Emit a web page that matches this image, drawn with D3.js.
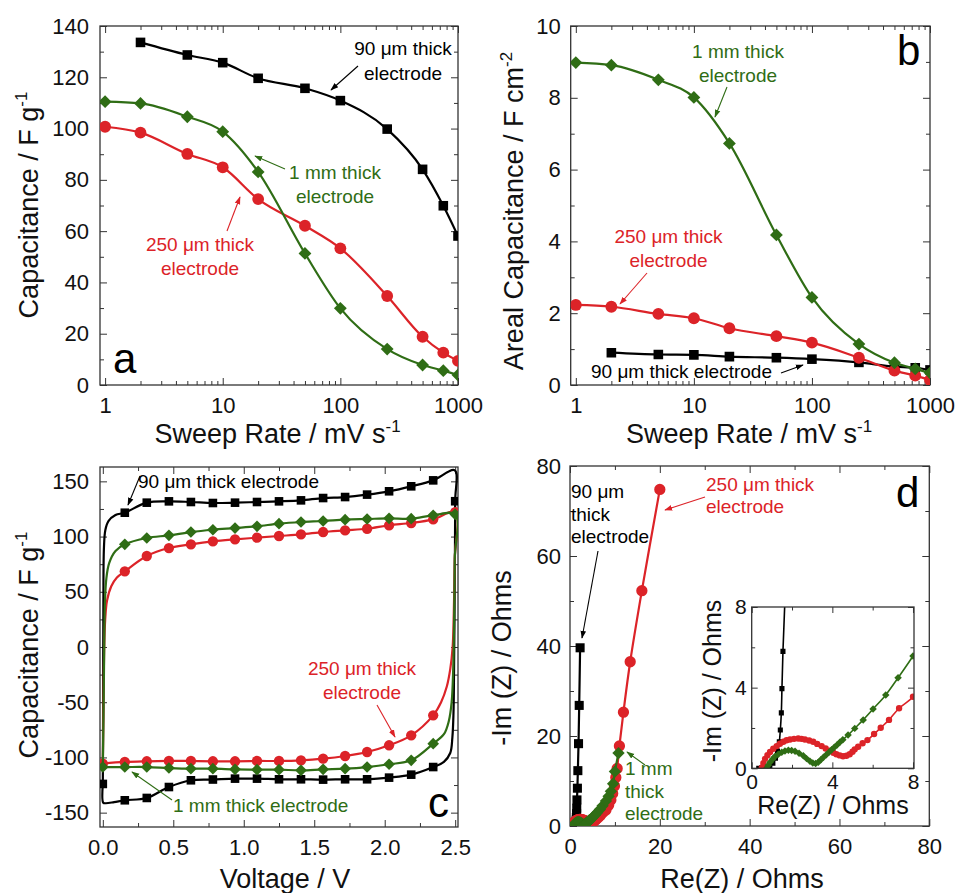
<!DOCTYPE html>
<html lang="en">
<head>
<meta charset="UTF-8">
<title>Electrode thickness comparison</title>
<script src="https://d3js.org/d3.v7.min.js"></script>
<style>
  body { margin: 0; background: #fff; }
  svg { font-family: "Liberation Sans", Arial, sans-serif; }
  .axis-title { font-size: 27px; fill: #111; }
  .note { font-size: 19px; }
  .letter { font-size: 42px; fill: #000; }
</style>
</head>
<body>
<svg id="chart" width="955" height="893"></svg>
<script>
const FONT = '"Liberation Sans", Arial, sans-serif';
const RED = "#dc2328", GREEN = "#2f6d15", BLACK = "#000";

// ---- panels a, b: sweep rate in mV/s
const sweepRates = [1, 2, 5, 10, 20, 50, 100, 250, 500, 750, 1000];
const rateTicks = [1, 10, 100, 1000];
// gravimetric capacitance, F/g (the 90 um electrode starts at 2 mV/s)
const grav90 = [null, 133.6, 128.7, 125.7, 119.6, 115.7, 110.9, 99.8, 84.1, 69.9, 58.1];
const grav250 = [100.7, 98.4, 90.1, 84.9, 72.5, 62.1, 53.3, 34.7, 18.8, 12.6, 9.4];
const grav1mm = [110.5, 109.8, 104.6, 98.8, 83.1, 51.3, 29.9, 14.0, 7.8, 5.6, 3.9];
const gravTicks = [0, 20, 40, 60, 80, 100, 120, 140];
// areal capacitance, F/cm2
const areal90 = [null, 0.90, 0.85, 0.84, 0.79, 0.76, 0.72, 0.63, 0.51, 0.48, 0.42];
const areal250 = [2.23, 2.18, 1.98, 1.86, 1.58, 1.36, 1.18, 0.76, 0.40, 0.26, 0.14];
const areal1mm = [8.98, 8.91, 8.50, 8.01, 6.73, 4.18, 2.44, 1.14, 0.62, 0.45, 0.34];
const arealTicks = [0, 2, 4, 6, 8, 10];

// ---- panel c: cyclic voltammetry, capacitance (F/g) vs voltage
const cvVolts = [0, 0.156, 0.312, 0.469, 0.625, 0.781, 0.938, 1.094, 1.25, 1.406, 1.563, 1.719, 1.875, 2.031, 2.188, 2.344, 2.5];
const voltTicks = [0, 0.5, 1, 1.5, 2, 2.5];
const cvTicks = [-150, -100, -50, 0, 50, 100, 150];
// charging branch, one value per cvVolts entry
const cv90Up = [-124, 121.6, 130.7, 131.9, 131.3, 130.4, 130.7, 131.3, 131.9, 132.8, 134.9, 135.8, 138.0, 141.0, 145.5, 150.9, 132.0];
const cv250Up = [-105.6, 68.5, 82.4, 89.6, 93.0, 95.7, 97.5, 99.0, 100.5, 102.0, 104.1, 105.6, 107.1, 110.2, 112.3, 115.6, 122.0];
const cv1mmUp = [-108.7, 93.0, 98.7, 101.1, 104.1, 106.2, 107.7, 109.3, 111.7, 113.2, 114.1, 115.3, 115.9, 116.5, 116.2, 119.2, 120.1];
// discharge branch, at cvVolts[1..15]
const cv90Down = [-138.8, -136.7, -126.8, -120.7, -120.0, -119.2, -119.2, -119.8, -119.8, -120.1, -119.8, -119.8, -118.3, -115.6, -108.7];
const cv250Down = [-104.1, -103.5, -103.2, -103.2, -103.5, -103.5, -103.2, -103.2, -102.6, -101.1, -98.7, -95.1, -89.0, -80.0, -61.9];
const cv1mmDown = [-108.7, -108.7, -109.6, -110.2, -110.2, -110.8, -111.1, -111.1, -111.7, -110.8, -110.2, -108.7, -106.2, -102.6, -87.5];
// sharp turns at 0 V and 2.5 V (unmarked trace points)
const cv90Rise = [[0.002, -60], [0.004, 40], [0.008, 90], [0.018, 106], [0.04, 114], [0.09, 119.5]];
const cv90Turn = [[2.497, 160]];
const cv90Fall = [[2.497, 60], [2.492, -20], [2.488, -60], [2.48, -82], [2.465, -96], [2.42, -104]];
const cv90End = [[0.08, -140.5], [0.02, -141.5], [0.003, -141]];
const cv250Rise = [[0.005, -50], [0.01, 0], [0.017, 25], [0.03, 42], [0.06, 55], [0.1, 63]];
const cv250Fall = [[2.497, 80], [2.49, 30], [2.482, 0], [2.465, -20], [2.44, -36], [2.4, -50]];
const cv1mmRise = [[0.005, -60], [0.01, 0], [0.015, 40], [0.025, 62], [0.045, 76], [0.09, 87]];
const cv1mmFall = [[2.497, 80], [2.492, 20], [2.486, -20], [2.475, -50], [2.455, -67], [2.42, -79]];

// ---- panel d: Nyquist plot, [Re(Z), -Im(Z)] in Ohms
const eisTicks = [0, 20, 40, 60, 80];
const insetTicks = [0, 4, 8];
const eis90 = [[0.35, 0], [0.5, 0.02], [0.7, 0.05], [0.9, 0.12], [1.05, 0.25], [1.18, 0.5], [1.28, 0.85], [1.37, 1.32],
  [1.42, 1.9], [1.47, 2.75], [1.5, 3.95], [1.55, 5.8], [1.65, 8.4], [1.75, 12.3], [1.9, 18.3], [2.05, 26.8], [2.25, 39.6]];
const eis250 = [[0.5, 0.03], [0.58, 0.25], [0.66, 0.47], [0.78, 0.65], [0.91, 0.81], [1.07, 0.97], [1.24, 1.1], [1.4, 1.22],
  [1.57, 1.32], [1.73, 1.39], [1.9, 1.43], [2.1, 1.46], [2.31, 1.48], [2.47, 1.46], [2.64, 1.43], [2.85, 1.38], [3.05, 1.32],
  [3.25, 1.21], [3.47, 1.1], [3.67, 0.98], [3.88, 0.87], [4.05, 0.77], [4.2, 0.7], [4.37, 0.64], [4.53, 0.6], [4.7, 0.62],
  [4.86, 0.7], [5.0, 0.82], [5.11, 0.94], [5.28, 1.07], [5.5, 1.24], [5.74, 1.4], [6.07, 1.7], [6.4, 2.01], [6.81, 2.4],
  [7.31, 2.98], [8.0, 3.55], [8.6, 4.6], [9.1, 5.8], [9.5, 7.2], [9.9, 8.9], [10.2, 10.8], [10.5, 12.8], [11.0, 17.8],
  [11.9, 25.3], [13.4, 36.5], [16.0, 52.3], [20.0, 74.8]];
const eis1mm = [[0.74, 0.0], [0.82, 0.15], [0.91, 0.3], [1.03, 0.45], [1.15, 0.58], [1.32, 0.7], [1.49, 0.8], [1.65, 0.86],
  [1.82, 0.89], [1.98, 0.88], [2.15, 0.84], [2.35, 0.75], [2.56, 0.62], [2.72, 0.48], [2.89, 0.35], [3.03, 0.26], [3.17, 0.24],
  [3.3, 0.3], [3.43, 0.42], [3.56, 0.55], [3.7, 0.67], [3.83, 0.79], [3.96, 0.92], [4.1, 1.04], [4.23, 1.16], [4.37, 1.29],
  [4.52, 1.42], [4.78, 1.65], [5.11, 1.98], [5.53, 2.4], [6.02, 2.94], [6.65, 3.64], [7.26, 4.49], [8.0, 5.57], [8.6, 6.6],
  [9.1, 7.7], [9.6, 9.4], [10.0, 12.1], [10.8, 16.2]];

const svg = d3.select("#chart");
const defs = svg.append("defs");

[["k", BLACK], ["r", RED], ["g", GREEN]].forEach(([id, c]) => {
  defs.append("marker").attr("id", "arr-" + id)
    .attr("viewBox", "0 0 10 10").attr("refX", 9).attr("refY", 5)
    .attr("markerWidth", 8).attr("markerHeight", 8).attr("markerUnits", "userSpaceOnUse")
    .attr("orient", "auto")
    .append("path").attr("d", "M0,1.5 L10,5 L0,8.5 Z").attr("fill", c);
});

// minor ticks: every value from step in range that is not a major one
function minorTicks(lo, hi, step, majors) {
  return d3.range(lo, hi + step / 2, step).filter(v => !majors.some(m => Math.abs(m - v) < 1e-9));
}
const logMinor = [1, 10, 100].flatMap(d => d3.range(2, 10).map(k => k * d));

function panel(name, box, x, y) {
  const w = box.x1 - box.x0, h = box.y1 - box.y0;
  x.range([0, w]);
  y.range([h, 0]);
  const g = svg.append("g").attr("transform", `translate(${box.x0},${box.y0})`);
  defs.append("clipPath").attr("id", "clip-" + name)
    .append("rect").attr("width", w).attr("height", h);
  return { g, w, h, x, y };
}

function axes(p, o) {
  const { g, w, h, x, y } = p;
  const add = (axis, tr) => {
    const a = g.append("g").attr("transform", tr || null).call(axis);
    a.attr("font-family", FONT).attr("font-size", o.fontSize);
    a.select(".domain").remove();
    a.selectAll("line").attr("stroke", "#333");
    a.selectAll("text").attr("fill", "#111");
  };
  const big = o.major, small = o.minor;
  add(d3.axisBottom(x).tickValues(o.xMajor).tickFormat(o.xFmt).tickSize(-big).tickPadding(o.padX), `translate(0,${h})`);
  add(d3.axisBottom(x).tickValues(o.xMinor).tickFormat("").tickSize(-small), `translate(0,${h})`);
  add(d3.axisTop(x).tickValues(o.xMajor).tickFormat("").tickSize(-big));
  add(d3.axisTop(x).tickValues(o.xMinor).tickFormat("").tickSize(-small));
  add(d3.axisLeft(y).tickValues(o.yMajor).tickFormat(o.yFmt).tickSize(-big).tickPadding(o.padY));
  add(d3.axisLeft(y).tickValues(o.yMinor).tickFormat("").tickSize(-small));
  add(d3.axisRight(y).tickValues(o.yMajor).tickFormat("").tickSize(-big), `translate(${w},0)`);
  add(d3.axisRight(y).tickValues(o.yMinor).tickFormat("").tickSize(-small), `translate(${w},0)`);
  g.append("rect").attr("width", w).attr("height", h)
    .attr("fill", "none").attr("stroke", "#333").attr("stroke-width", 1.3);
}

function series(p, name, pts, kind, color, size, curve, lineW, markPts) {
  const layer = p.g.append("g").attr("clip-path", `url(#clip-${name})`);
  const line = d3.line().x(d => p.x(d[0])).y(d => p.y(d[1])).curve(curve);
  layer.append("path").datum(pts).attr("d", line)
    .attr("fill", "none").attr("stroke", color).attr("stroke-width", lineW);
  const sym = d3.symbol().type(kind === "circle" ? d3.symbolCircle : d3.symbolSquare).size(size);
  layer.append("g").selectAll("path").data(markPts || pts).join("path")
    .attr("d", sym)
    .attr("transform", d => `translate(${p.x(d[0])},${p.y(d[1])})` + (kind === "diamond" ? " rotate(45)" : ""))
    .attr("fill", color);
}

const plain = d => String(d);

// ---------- panel a
const pa = panel("a", { x0: 100, y0: 26, x1: 458, y1: 385 },
  d3.scaleLog().domain([0.905, 1000]), d3.scaleLinear().domain([0, 140]));
axes(pa, {
  xMajor: rateTicks, xMinor: logMinor, xFmt: d3.format("d"), padX: 12,
  yMajor: gravTicks, yMinor: minorTicks(10, 130, 20, []), yFmt: plain, padY: 11,
  major: 7, minor: 4, fontSize: 22
});
const rated = vals => sweepRates.map((r, i) => [r, vals[i]]).filter(d => d[1] != null);
series(pa, "a", rated(grav90), "square", BLACK, 92, d3.curveMonotoneX, 2.2);
series(pa, "a", rated(grav250), "circle", RED, 110, d3.curveMonotoneX, 2.2);
series(pa, "a", rated(grav1mm), "diamond", GREEN, 82, d3.curveMonotoneX, 2.2);

// ---------- panel b
const pb = panel("b", { x0: 570.7, y0: 26, x1: 930, y1: 385 },
  d3.scaleLog().domain([0.905, 1000]), d3.scaleLinear().domain([0, 10]));
axes(pb, {
  xMajor: rateTicks, xMinor: logMinor, xFmt: d3.format("d"), padX: 12,
  yMajor: arealTicks, yMinor: minorTicks(1, 9, 2, []), yFmt: plain, padY: 10,
  major: 7, minor: 4, fontSize: 22
});
series(pb, "b", rated(areal90), "square", BLACK, 92, d3.curveMonotoneX, 2.2);
series(pb, "b", rated(areal250), "circle", RED, 110, d3.curveMonotoneX, 2.2);
series(pb, "b", rated(areal1mm), "diamond", GREEN, 82, d3.curveMonotoneX, 2.2);

// ---------- panel c
const pc = panel("c", { x0: 100, y0: 467, x1: 458, y1: 827 },
  d3.scaleLinear().domain([-0.02, 2.52]), d3.scaleLinear().domain([-163, 163]));
axes(pc, {
  xMajor: voltTicks, xMinor: minorTicks(0.25, 2.25, 0.5, []), xFmt: d3.format(".1f"), padX: 12,
  yMajor: cvTicks, yMinor: minorTicks(-125, 125, 50, []), yFmt: plain, padY: 11,
  major: 7, minor: 4, fontSize: 22
});
function cvLoop(up, down, rise, turn, fall, end) {
  const pts = [[cvVolts[0], up[0]], ...rise];
  for (let i = 1; i < 16; i++) pts.push([cvVolts[i], up[i]]);
  pts.push(...turn, [cvVolts[16], up[16]], ...fall);
  for (let i = 15; i >= 1; i--) pts.push([cvVolts[i], down[i - 1]]);
  pts.push(...end, [cvVolts[0], up[0]]);
  return pts;
}
function cvMarks(up, down) {
  return cvVolts.map((v, i) => [v, up[i]]).concat(down.map((c, i) => [cvVolts[i + 1], c]));
}
const cvCurve = d3.curveCatmullRom.alpha(0.5);
series(pc, "c", cvLoop(cv90Up, cv90Down, cv90Rise, cv90Turn, cv90Fall, cv90End), "square", BLACK, 74, cvCurve, 2.2, cvMarks(cv90Up, cv90Down));
series(pc, "c", cvLoop(cv250Up, cv250Down, cv250Rise, [], cv250Fall, []), "circle", RED, 84, cvCurve, 2.2, cvMarks(cv250Up, cv250Down));
series(pc, "c", cvLoop(cv1mmUp, cv1mmDown, cv1mmRise, [], cv1mmFall, []), "diamond", GREEN, 68, cvCurve, 2.2, cvMarks(cv1mmUp, cv1mmDown));

// ---------- panel d
const pd = panel("d", { x0: 570, y0: 466, x1: 929.3, y1: 826 },
  d3.scaleLinear().domain([0, 80]), d3.scaleLinear().domain([0, 80]));
axes(pd, {
  xMajor: eisTicks, xMinor: minorTicks(10, 70, 20, []), xFmt: plain, padX: 12,
  yMajor: eisTicks, yMinor: minorTicks(10, 70, 20, []), yFmt: plain, padY: 9,
  major: 7, minor: 4, fontSize: 22
});
const eisCurve = d3.curveCatmullRom.alpha(0.5);
series(pd, "d", eis90, "square", BLACK, 82, eisCurve, 2.2);
series(pd, "d", eis250, "circle", RED, 100, eisCurve, 2.2);
series(pd, "d", eis1mm, "diamond", GREEN, 76, eisCurve, 2.2);

// inset
const insetBox = { x0: 751.7, y0: 607, x1: 914, y1: 768.3 };
svg.append("rect").attr("x", insetBox.x0).attr("y", insetBox.y0)
  .attr("width", insetBox.x1 - insetBox.x0).attr("height", insetBox.y1 - insetBox.y0).attr("fill", "#fff");
const pi = panel("inset", insetBox, d3.scaleLinear().domain([0, 8.05]), d3.scaleLinear().domain([0, 8]));
series(pi, "inset", eis90, "square", BLACK, 26, eisCurve, 1.6);
series(pi, "inset", eis250, "circle", RED, 32, eisCurve, 1.6);
series(pi, "inset", eis1mm, "diamond", GREEN, 28, eisCurve, 1.6);
axes(pi, {
  xMajor: insetTicks, xMinor: [2, 6], xFmt: plain, padX: 6,
  yMajor: insetTicks, yMinor: [2, 6], yFmt: plain, padY: 5,
  major: 6, minor: 3.5, fontSize: 21
});

// ---------- axis titles
function title(x, y, text, sup, rotate, size) {
  const t = svg.append("text").attr("class", "axis-title")
    .attr("text-anchor", "middle")
    .attr("transform", `translate(${x},${y})` + (rotate ? " rotate(-90)" : ""));
  if (size) t.style("font-size", size + "px");
  t.append("tspan").text(text);
  if (sup) t.append("tspan").attr("dy", -11).style("font-size", "17px").text(sup);
}
title(277.5, 443, "Sweep Rate / mV s", "-1");
title(749, 443, "Sweep Rate / mV s", "-1");
title(285, 888, "Voltage / V");
title(742, 888, "Re(Z) / Ohms");
title(37.5, 205, "Capacitance / F g", "-1", true);
title(523, 211, "Areal Capacitance / F cm", "-2", true);
title(37.5, 645, "Capacitance / F g", "-1", true);
title(511, 658, "-Im (Z) / Ohms", null, true);
title(833, 814, "Re(Z) / Ohms", null, false, 25);
title(721, 681, "-Im (Z) / Ohms", null, true, 25);

// ---------- panel letters
[["a", 113, 373], ["b", 897, 65], ["c", 428, 817], ["d", 896, 507]].forEach(([s, x, y]) =>
  svg.append("text").attr("class", "letter").attr("x", x).attr("y", y).text(s));

// ---------- annotations
function note(lines, x, y0, lh, anchor, color) {
  const t = svg.append("text").attr("class", "note").attr("fill", color).attr("text-anchor", anchor);
  lines.forEach((s, i) => t.append("tspan").attr("x", x).attr("y", y0 + i * lh).text(s));
}
function arrow(x1, y1, x2, y2, color, id) {
  svg.append("line").attr("x1", x1).attr("y1", y1).attr("x2", x2).attr("y2", y2)
    .attr("stroke", color).attr("stroke-width", 1.1).attr("marker-end", `url(#arr-${id})`);
}
// a
note(["90 \u03bcm thick", "electrode"], 403, 55, 25, "middle", BLACK);
arrow(358, 66, 331, 90, BLACK, "k");
note(["1 mm thick", "electrode"], 335, 179, 24, "middle", GREEN);
arrow(285, 169, 255, 156, GREEN, "g");
note(["250 \u03bcm thick", "electrode"], 200, 251, 24, "middle", RED);
arrow(227, 231, 240, 197, RED, "r");
// b
note(["1 mm thick", "electrode"], 738, 58, 24, "middle", GREEN);
arrow(727, 87, 715, 117, GREEN, "g");
note(["250 \u03bcm thick", "electrode"], 668.5, 243, 24, "middle", RED);
arrow(647, 273, 620, 304, RED, "r");
note(["90 \u03bcm thick electrode"], 591, 378, 24, "start", BLACK);
arrow(781, 373, 803, 365, BLACK, "k");
// c
note(["90 \u03bcm thick electrode"], 138, 488, 24, "start", BLACK);
arrow(140, 476, 128, 505, BLACK, "k");
note(["250 \u03bcm thick", "electrode"], 362, 675, 24, "middle", RED);
arrow(377, 705, 395, 737, RED, "r");
note(["1 mm thick electrode"], 173, 812, 24, "start", GREEN);
arrow(172, 800, 132, 772, GREEN, "g");
// d
note(["90 \u03bcm", "thick", "electrode"], 571, 498, 22.5, "start", BLACK);
arrow(598, 551, 582, 638, BLACK, "k");
note(["250 \u03bcm thick", "electrode"], 706, 491, 22, "start", RED);
arrow(705, 497, 665, 510, RED, "r");
note(["1 mm", "thick", "electrode"], 625, 775, 22.5, "start", GREEN);
arrow(645, 765, 627, 752, GREEN, "g");
</script>
</body>
</html>
